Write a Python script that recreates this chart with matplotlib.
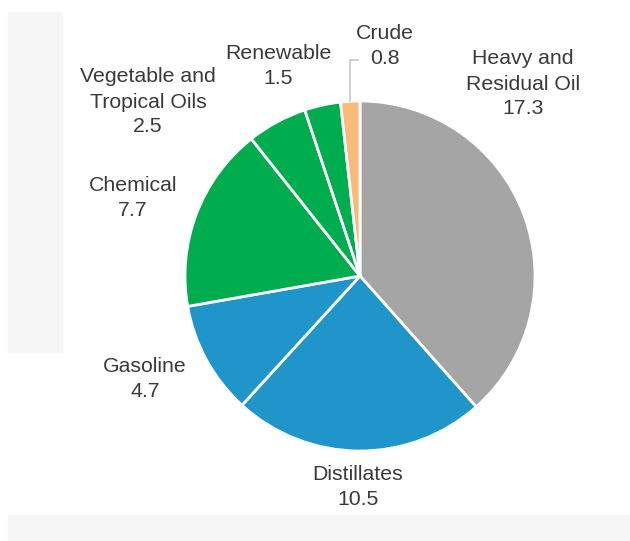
import numpy as np
import matplotlib
matplotlib.use("Agg")
import matplotlib.pyplot as plt
from matplotlib.patches import Rectangle

# data, clockwise from 12 o'clock
categories = ["Heavy and\nResidual Oil", "Distillates", "Gasoline", "Chemical",
              "Vegetable and\nTropical Oils", "Renewable", "Crude"]
values = [17.3, 10.5, 4.7, 7.7, 2.5, 1.5, 0.8]
colors = ["#a5a5a5", "#1f95c9", "#1f95c9", "#00ad4e", "#00ad4e", "#00ad4e", "#f8bb79"]

# label centres in image pixels (x, y from top)
label_pos = [(523, 84), (358, 487), (145, 379), (133, 198),
             (148, 102), (278, 66), (385, 46)]

W, H = 630, 541
fig = plt.figure(figsize=(W / 100, H / 100), dpi=100)
fig.patch.set_facecolor("white")

# light panels behind the chart
fig.patches.append(Rectangle((8 / W, 1 - 352 / H), 54 / W, 340 / H,
                             transform=fig.transFigure, color="#f6f6f6", zorder=0))
fig.patches.append(Rectangle((8 / W, 0), 622 / W, 26 / H,
                             transform=fig.transFigure, color="#f6f6f6", zorder=0))

ax = fig.add_axes([0, 0, 1, 1])
ax.set_xlim(0, W)
ax.set_ylim(0, H)
ax.set_aspect("equal")
ax.axis("off")
ax.patch.set_alpha(0)

cx, cy, r = 360, H - 276, 175
wedges, _ = ax.pie(values, colors=colors, startangle=90, counterclock=False,
                   center=(cx, cy), radius=r,
                   wedgeprops=dict(edgecolor="white", linewidth=2))
ax.set_xlim(0, W)
ax.set_ylim(0, H)

for name, val, (lx, ly) in zip(categories, values, label_pos):
    ax.text(lx, H - ly, f"{name}\n{val}", ha="center", va="center",
            fontsize=15.3, color="#3a3a3a", family="Liberation Sans",
            linespacing=1.4)

# leader line for the small Crude slice
w = wedges[-1]
mid = np.deg2rad((w.theta1 + w.theta2) / 2)
px, py = cx + r * np.cos(mid), cy + r * np.sin(mid)
ax.plot([px, px, px + 8], [py, H - 60, H - 60], color="#c8c8c8", lw=1.2,
        solid_joinstyle="miter")

fig.savefig("out.png", dpi=100)
